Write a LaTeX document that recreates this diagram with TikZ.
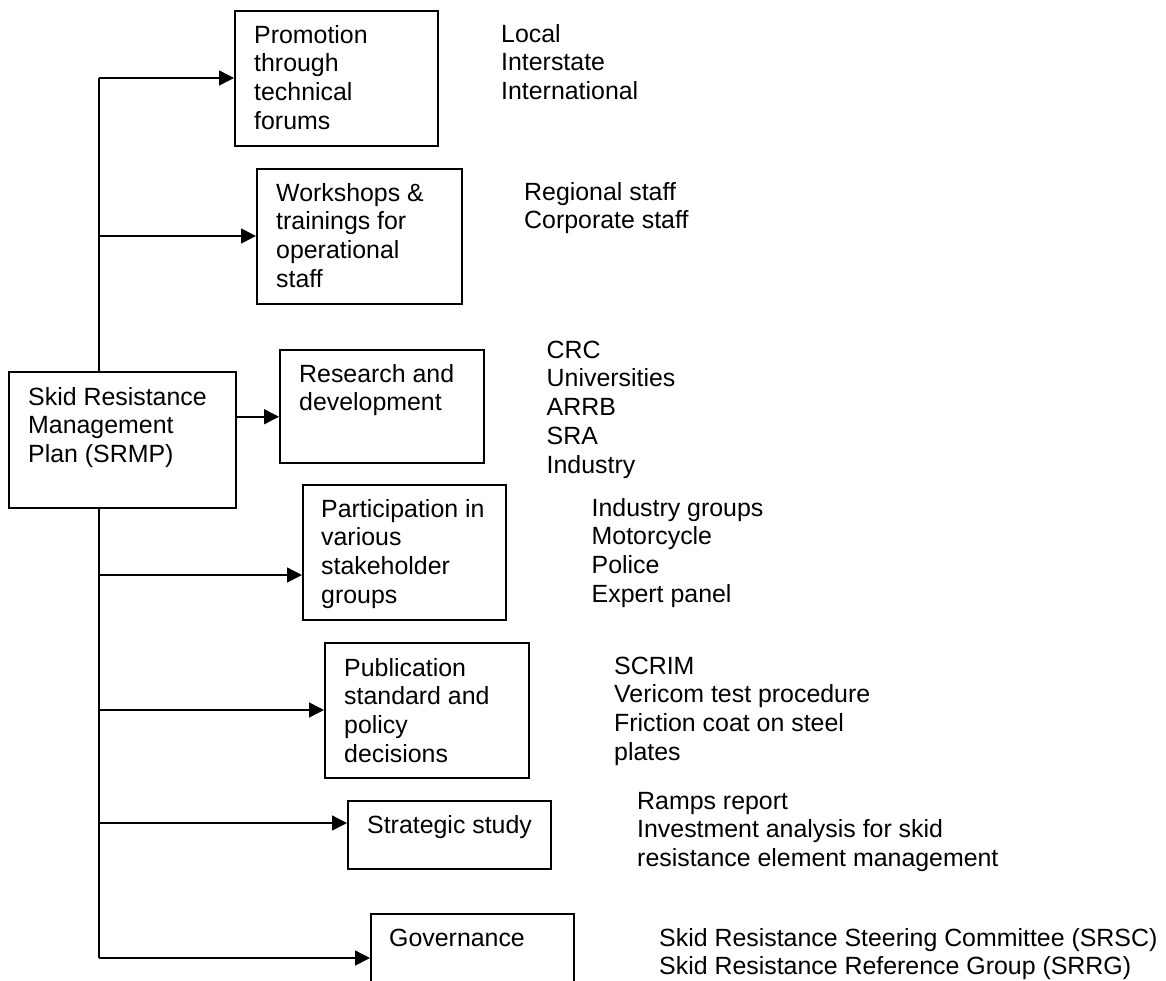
\documentclass[tikz,border=0pt]{standalone}
\usepackage{fontspec}
\setmainfont{Liberation Sans}
\usetikzlibrary{arrows.meta}
\newcommand{\fl}{\rule{0pt}{20pt}}
\tikzset{
  box/.style={draw, line width=1.5pt, inner sep=0pt, anchor=north west, fill=white},
  txt/.style={inner sep=0pt, anchor=north west, align=left, font=\fontsize{24.9}{28.7}\selectfont},
  trunk/.style={line width=1.5pt},
  arr/.style={line width=1.5pt, -{Triangle[length=15pt,width=15pt]}}
}
\begin{document}
\begin{tikzpicture}[x=1pt,y=-1pt]
\useasboundingbox (0,0) rectangle (1166,980);
\begin{scope}
\clip (0,0) rectangle (1166,980);
% boxes
\node[box, minimum width=203pt, minimum height=135pt] (promo) at (234,10) {};
\node[box, minimum width=205pt, minimum height=135pt] (work) at (256,168) {};
\node[box, minimum width=227pt, minimum height=136pt] (srmp) at (8,371) {};
\node[box, minimum width=204pt, minimum height=113pt] (res) at (279,349) {};
\node[box, minimum width=203pt, minimum height=135pt] (part) at (302,484) {};
\node[box, minimum width=204pt, minimum height=135pt] (pub) at (324,642) {};
\node[box, minimum width=203pt, minimum height=68pt] (strat) at (347,800) {};
\node[box, minimum width=203pt, minimum height=135pt] (gov) at (370,913) {};
% box texts
\node[txt] (promoT) at ([shift={(20,13)}]promo.north west) {\fl Promotion\\through\\technical\\forums};
\node[txt] (workT) at ([shift={(20,13)}]work.north west) {\fl Workshops \&\\trainings for\\operational\\staff};
\node[txt] (srmpT) at ([shift={(20,14)}]srmp.north west) {\fl Skid Resistance\\Management\\Plan (SRMP)};
\node[txt] (resT) at ([shift={(20,13)}]res.north west) {\fl Research and\\development};
\node[txt] (partT) at ([shift={(19,13)}]part.north west) {\fl Participation in\\various\\stakeholder\\groups};
\node[txt] (pubT) at ([shift={(20,14)}]pub.north west) {\fl Publication\\standard and\\policy\\decisions};
\node[txt] (stratT) at ([shift={(20,13)}]strat.north west) {\fl Strategic study};
\node[txt] (govT) at ([shift={(19,13)}]gov.north west) {\fl Governance};
% side lists
\node[txt] (l1) at (501,22) {\fl Local\\Interstate\\International};
\node[txt] (l2) at (524,180) {\fl Regional staff\\Corporate staff};
\node[txt] (l3) at (546.5,338) {\fl CRC\\Universities\\ARRB\\SRA\\Industry};
\node[txt] (l4) at (591.5,496) {\fl Industry groups\\Motorcycle\\Police\\Expert panel};
\node[txt] (l5) at (614,654) {\fl SCRIM\\Vericom test procedure\\Friction coat on steel\\plates};
\node[txt] (l6) at (637,789) {\fl Ramps report\\Investment analysis for skid\\resistance element management};
\node[txt] (l7) at (659,926) {\fl Skid Resistance Steering Committee (SRSC)\\Skid Resistance Reference Group (SRRG)};
% trunk
\coordinate (j1) at (99,78);
\coordinate (j2) at (99,236);
\coordinate (j4) at (99,575);
\coordinate (j5) at (99,710);
\coordinate (j6) at (99,823);
\coordinate (j7) at (99,958);
\coordinate (r0) at ([yshift=23pt]srmp.east);
\draw[trunk] (j1) -- (j1 |- srmp.north);
\draw[trunk] (j1 |- srmp.south) -- (j7);
\draw[arr] (j1) -- (j1 -| promo.west);
\draw[arr] (j2) -- (j2 -| work.west);
\draw[arr] (r0) -- (r0 -| res.west);
\draw[arr] (j4) -- (j4 -| part.west);
\draw[arr] (j5) -- (j5 -| pub.west);
\draw[arr] (j6) -- (j6 -| strat.west);
\draw[arr] (j7) -- (j7 -| gov.west);
\end{scope}
\end{tikzpicture}
\end{document}
